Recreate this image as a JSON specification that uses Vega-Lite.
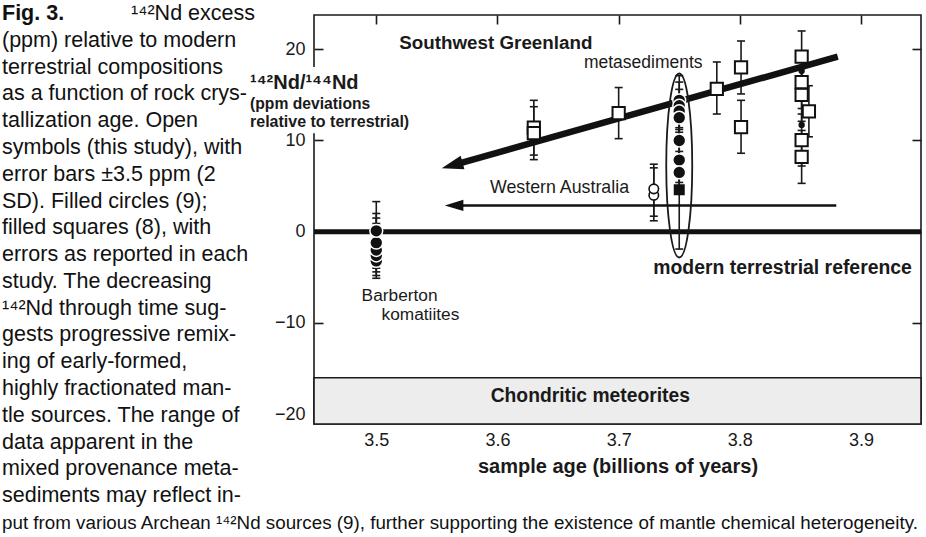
{
  "$schema": "https://vega.github.io/schema/vega-lite/v6.json",
  "width": 607,
  "height": 409,
  "autosize": {"type": "none"},
  "padding": {"left": 314, "top": 15, "right": 5, "bottom": 113},
  "background": "white",
  "config": {
    "font": "Liberation Sans",
    "view": {"stroke": "#1a1a1a", "strokeWidth": 1.6},
    "axis": {"domain": false, "grid": false, "ticks": true, "tickColor": "#1a1a1a", "tickWidth": 1.6, "tickSize": -9, "labelFont": "Liberation Sans", "labelFontSize": 18, "labelColor": "#1a1a1a", "titleFont": "Liberation Sans", "titleFontSize": 20, "titleFontWeight": "bold", "titleColor": "#1a1a1a"},
    "text": {"color": "#1a1a1a"}
  },
  "datasets": {
    "samples": [
      {"kind": "open square", "x": 3.630, "y": 11.4, "lo": 7.9, "hi": 14.4},
      {"kind": "open square", "x": 3.630, "y": 10.8, "lo": 8.4, "hi": 13.7},
      {"kind": "open square", "x": 3.700, "y": 13.0, "lo": 10.2, "hi": 15.8},
      {"kind": "open square", "x": 3.781, "y": 15.65, "lo": 12.9, "hi": 18.6},
      {"kind": "open square", "x": 3.801, "y": 18.0, "lo": 15.1, "hi": 20.9},
      {"kind": "open square", "x": 3.801, "y": 11.45, "lo": 8.6, "hi": 14.4},
      {"kind": "open square", "x": 3.851, "y": 19.2, "lo": 16.4, "hi": 22.0},
      {"kind": "open square", "x": 3.851, "y": 15.0, "lo": 12.1, "hi": 17.9},
      {"kind": "open square", "x": 3.851, "y": 16.4, "lo": 13.5, "hi": 19.3},
      {"kind": "open square", "x": 3.857, "y": 13.2, "lo": 10.4, "hi": 16.0},
      {"kind": "open square", "x": 3.851, "y": 10.05, "lo": 7.2, "hi": 12.9},
      {"kind": "open square", "x": 3.851, "y": 8.2, "lo": 5.3, "hi": 11.1},
      {"kind": "open circle", "x": 3.729, "y": 4.0, "lo": 1.7, "hi": 7.0},
      {"kind": "open circle", "x": 3.729, "y": 4.7, "lo": 1.2, "hi": 7.4},
      {"kind": "filled circle", "x": 3.500, "y": -3.2, "lo": -5.1, "hi": -0.6},
      {"kind": "filled circle", "x": 3.500, "y": -2.6, "lo": -4.8, "hi": 0.9},
      {"kind": "filled circle", "x": 3.500, "y": -2.0, "lo": -4.4, "hi": 1.5},
      {"kind": "filled circle", "x": 3.500, "y": -1.2, "lo": -4.0, "hi": 2.0},
      {"kind": "filled circle", "x": 3.500, "y": 0.1, "lo": -3.6, "hi": 3.3},
      {"kind": "filled circle", "x": 3.750, "y": 14.4, "lo": 12.0, "hi": 17.1},
      {"kind": "filled circle", "x": 3.750, "y": 13.8, "lo": 11.4, "hi": 16.4},
      {"kind": "filled circle", "x": 3.750, "y": 13.2, "lo": 10.9, "hi": 15.6},
      {"kind": "filled circle", "x": 3.750, "y": 12.5, "lo": 10.3, "hi": 14.8},
      {"kind": "filled circle", "x": 3.750, "y": 10.0, "lo": 7.8, "hi": 12.2},
      {"kind": "filled circle", "x": 3.750, "y": 7.85, "lo": 5.4, "hi": 10.3},
      {"kind": "filled circle", "x": 3.750, "y": 6.5, "lo": 4.2, "hi": 8.8},
      {"kind": "filled square", "x": 3.750, "y": 4.6, "lo": -1.9, "hi": 11.2},
      {"kind": "small filled", "x": 3.851, "y": 17.6},
      {"kind": "small filled", "x": 3.851, "y": 11.7}
    ],
    "arrows": [
      {"arrow": "Southwest Greenland", "x": 3.5635, "y": 7.306},
      {"arrow": "Southwest Greenland", "x": 3.8808, "y": 19.18},
      {"arrow": "Western Australia", "x": 3.5647, "y": 2.88},
      {"arrow": "Western Australia", "x": 3.8796, "y": 2.88}
    ],
    "caption": [
      {"line": 1, "text": "¹⁴²Nd excess"},
      {"line": 2, "text": "(ppm) relative to modern"},
      {"line": 3, "text": "terrestrial compositions"},
      {"line": 4, "text": "as a function of rock crys-"},
      {"line": 5, "text": "tallization age. Open"},
      {"line": 6, "text": "symbols (this study), with"},
      {"line": 7, "text": "error bars ±3.5 ppm (2"},
      {"line": 8, "text": "SD). Filled circles (9);"},
      {"line": 9, "text": "filled squares (8), with"},
      {"line": 10, "text": "errors as reported in each"},
      {"line": 11, "text": "study. The decreasing"},
      {"line": 12, "text": "¹⁴²Nd through time sug-"},
      {"line": 13, "text": "gests progressive remix-"},
      {"line": 14, "text": "ing of early-formed,"},
      {"line": 15, "text": "highly fractionated man-"},
      {"line": 16, "text": "tle sources. The range of"},
      {"line": 17, "text": "data apparent in the"},
      {"line": 18, "text": "mixed provenance meta-"},
      {"line": 19, "text": "sediments may reflect in-"},
      {"line": 20, "text": "put from various Archean ¹⁴²Nd sources (9), further supporting the existence of mantle chemical heterogeneity."}
    ]
  },
  "layer": [
    {
      "layer": [
        {
          "layer": [
            {
              "data": {"values": [{}]},
              "mark": {"type": "rect", "fill": "#ededed", "stroke": "#1a1a1a", "strokeWidth": 1.6},
              "encoding": {
                "x": {"datum": 3.4486, "type": "quantitative", "scale": {"domain": [3.4486, 3.9495], "nice": false, "zero": false}, "axis": {"values": [3.5, 3.6, 3.7, 3.8, 3.9], "format": ".1f", "labelPadding": 16, "title": "sample age (billions of years)", "titlePadding": 7}},
                "x2": {"datum": 3.9495},
                "y": {"datum": -16, "type": "quantitative", "scale": {"domain": [-21.07, 23.75], "nice": false, "zero": false}, "axis": {"values": [-20, -10, 0, 10, 20], "labelPadding": 18, "title": null}},
                "y2": {"datum": -21.07}
              }
            },
            {
              "data": {"values": [{}]},
              "mark": {"type": "rect", "fill": "white"},
              "encoding": {"x": {"datum": 3.40}, "x2": {"datum": 3.4505}, "y": {"datum": 10.8}, "y2": {"datum": 18.05}}
            },
            {
              "data": {"values": [{}]},
              "mark": {"type": "rule", "color": "#111", "strokeWidth": 5},
              "encoding": {"y": {"datum": 0}}
            },
            {
              "data": {"name": "samples"},
              "transform": [{"filter": {"field": "lo", "valid": true}}],
              "mark": {"type": "rule", "color": "#1a1a1a", "strokeWidth": 1.6},
              "encoding": {"x": {"field": "x", "type": "quantitative"}, "y": {"field": "lo", "type": "quantitative"}, "y2": {"field": "hi"}}
            },
            {
              "data": {"name": "samples"},
              "transform": [{"filter": {"field": "lo", "valid": true}}, {"fold": ["lo", "hi"], "as": ["end", "cap"]}],
              "mark": {"type": "tick", "orient": "horizontal", "size": 8, "thickness": 1.6, "color": "#1a1a1a", "opacity": 1},
              "encoding": {"x": {"field": "x", "type": "quantitative"}, "y": {"field": "cap", "type": "quantitative"}}
            },
            {
              "data": {"name": "arrows"},
              "transform": [{"filter": "datum.arrow == 'Southwest Greenland'"}],
              "mark": {"type": "line", "color": "#111", "strokeWidth": 6.5, "strokeCap": "butt"},
              "encoding": {"x": {"field": "x", "type": "quantitative"}, "y": {"field": "y", "type": "quantitative"}}
            },
            {
              "data": {"values": [{}]},
              "mark": {"type": "point", "shape": "M0,0L2,-0.65L2,0.65Z", "size": 467, "angle": 344.3, "filled": true, "color": "#111", "opacity": 1},
              "encoding": {"x": {"datum": 3.554}, "y": {"datum": 6.95}}
            },
            {
              "data": {"name": "arrows"},
              "transform": [{"filter": "datum.arrow == 'Western Australia'"}],
              "mark": {"type": "line", "color": "#111", "strokeWidth": 2.4},
              "encoding": {"x": {"field": "x", "type": "quantitative"}, "y": {"field": "y", "type": "quantitative"}}
            },
            {
              "data": {"values": [{}]},
              "mark": {"type": "point", "shape": "M0,0L2,-0.6L2,0.6Z", "size": 346, "filled": true, "color": "#111", "opacity": 1},
              "encoding": {"x": {"datum": 3.5565}, "y": {"datum": 2.88}}
            },
            {
              "data": {"values": [{}]},
              "mark": {"type": "point", "shape": "M0,-1C0.078,-1,0.1413,-0.5523,0.1413,0C0.1413,0.5523,0.078,1,0,1C-0.078,1,-0.1413,0.5523,-0.1413,0C-0.1413,-0.5523,-0.078,-1,0,-1Z", "size": 33856, "filled": false, "color": "#1a1a1a", "strokeWidth": 1.8, "opacity": 1},
              "encoding": {"x": {"datum": 3.750}, "y": {"datum": 7.26}}
            },
            {
              "data": {"name": "samples"},
              "transform": [{"filter": "datum.kind == 'small filled'"}],
              "mark": {"type": "point", "shape": "circle", "size": 40, "filled": true, "color": "#111", "opacity": 1},
              "encoding": {"x": {"field": "x", "type": "quantitative"}, "y": {"field": "y", "type": "quantitative"}}
            },
            {
              "data": {"name": "samples"},
              "transform": [{"filter": "datum.kind == 'open square'"}],
              "mark": {"type": "point", "shape": "square", "size": 150, "fill": "white", "stroke": "#111", "strokeWidth": 2, "opacity": 1},
              "encoding": {"x": {"field": "x", "type": "quantitative"}, "y": {"field": "y", "type": "quantitative"}}
            },
            {
              "data": {"name": "samples"},
              "transform": [{"filter": "datum.kind == 'open circle'"}],
              "mark": {"type": "point", "shape": "circle", "size": 90, "fill": "white", "stroke": "#111", "strokeWidth": 1.6, "opacity": 1},
              "encoding": {"x": {"field": "x", "type": "quantitative"}, "y": {"field": "y", "type": "quantitative"}}
            },
            {
              "data": {"name": "samples"},
              "transform": [{"filter": "datum.kind == 'filled circle'"}],
              "mark": {"type": "point", "shape": "circle", "size": 165, "fill": "#111", "stroke": "white", "strokeWidth": 1.5, "opacity": 1},
              "encoding": {"x": {"field": "x", "type": "quantitative"}, "y": {"field": "y", "type": "quantitative"}}
            },
            {
              "data": {"name": "samples"},
              "transform": [{"filter": "datum.kind == 'filled square'"}],
              "mark": {"type": "point", "shape": "square", "size": 121, "filled": true, "color": "#111", "opacity": 1},
              "encoding": {"x": {"field": "x", "type": "quantitative"}, "y": {"field": "y", "type": "quantitative"}}
            },
            {
              "data": {"values": [{}]},
              "mark": {"type": "text", "text": "Southwest Greenland", "align": "left", "baseline": "middle", "fontWeight": "bold", "fontSize": 18.8},
              "encoding": {"x": {"datum": 3.519}, "y": {"datum": 20.65}}
            },
            {
              "data": {"values": [{}]},
              "mark": {"type": "text", "text": "metasediments", "align": "center", "baseline": "middle", "fontSize": 17.5},
              "encoding": {"x": {"datum": 3.7203}, "y": {"datum": 18.45}}
            },
            {
              "data": {"values": [{}]},
              "mark": {"type": "text", "text": "Western Australia", "align": "center", "baseline": "middle", "fontSize": 17.8},
              "encoding": {"x": {"datum": 3.6512}, "y": {"datum": 4.76}}
            },
            {
              "data": {"values": [{}]},
              "mark": {"type": "text", "text": "modern terrestrial reference", "align": "right", "baseline": "middle", "fontWeight": "bold", "fontSize": 19.4},
              "encoding": {"x": {"datum": 3.942}, "y": {"datum": -4.01}}
            },
            {
              "data": {"values": [{}]},
              "mark": {"type": "text", "text": "Barberton", "align": "left", "baseline": "middle", "fontSize": 17.3},
              "encoding": {"x": {"datum": 3.4879}, "y": {"datum": -7.08}}
            },
            {
              "data": {"values": [{}]},
              "mark": {"type": "text", "text": "komatiites", "align": "left", "baseline": "middle", "fontSize": 17.3},
              "encoding": {"x": {"datum": 3.5043}, "y": {"datum": -9.18}}
            },
            {
              "data": {"values": [{}]},
              "mark": {"type": "text", "text": "Chondritic meteorites", "align": "center", "baseline": "middle", "fontWeight": "bold", "fontSize": 19.3},
              "encoding": {"x": {"datum": 3.6766}, "y": {"datum": -18.0}}
            },
            {
              "data": {"values": [{}]},
              "mark": {"type": "text", "text": "¹⁴²Nd/¹⁴⁴Nd", "align": "left", "baseline": "middle", "fontWeight": "bold", "fontSize": 20},
              "encoding": {"x": {"datum": 3.3958}, "y": {"datum": 16.26}}
            },
            {
              "data": {"values": [{}]},
              "mark": {"type": "text", "text": "(ppm deviations", "align": "left", "baseline": "middle", "fontWeight": "bold", "fontSize": 15.7},
              "encoding": {"x": {"datum": 3.3958}, "y": {"datum": 14.0}}
            },
            {
              "data": {"values": [{}]},
              "mark": {"type": "text", "text": "relative to terrestrial)", "align": "left", "baseline": "middle", "fontWeight": "bold", "fontSize": 16},
              "encoding": {"x": {"datum": 3.3958}, "y": {"datum": 12.05}}
            }
          ]
        },
        {
          "data": {"values": [{}]},
          "mark": {"type": "point", "opacity": 0},
          "encoding": {
            "x": {"datum": 3.7, "type": "quantitative", "axis": {"orient": "top", "labels": false, "title": null, "values": [3.5, 3.6, 3.7, 3.8, 3.9]}},
            "y": {"datum": 0, "type": "quantitative", "axis": {"orient": "right", "labels": false, "title": null, "values": [-20, -10, 0, 10, 20]}}
          }
        }
      ],
      "resolve": {"axis": {"x": "independent", "y": "independent"}}
    },
    {
      "data": {"name": "caption"},
      "layer": [
        {
          "transform": [{"filter": "datum.line >= 2 && datum.line <= 19"}],
          "mark": {"type": "text", "align": "left", "baseline": "middle", "fontSize": 21.5, "color": "#111"},
          "encoding": {
            "x": {"datum": 0, "type": "quantitative", "scale": {"domain": [0, 1], "range": [-312, 614], "zero": false, "nice": false}, "axis": null},
            "y": {"field": "line", "type": "quantitative", "scale": {"domain": [1, 20], "range": [-1, 508], "zero": false, "nice": false}, "axis": null},
            "text": {"field": "text"}
          }
        },
        {
          "transform": [{"filter": "datum.line == 1"}],
          "mark": {"type": "text", "align": "right", "baseline": "middle", "fontSize": 21.5, "color": "#111"},
          "encoding": {
            "x": {"datum": 0.2732, "type": "quantitative"},
            "y": {"field": "line", "type": "quantitative"},
            "text": {"field": "text"}
          }
        },
        {
          "transform": [{"filter": "datum.line == 1"}],
          "mark": {"type": "text", "align": "left", "baseline": "middle", "fontSize": 21.5, "fontWeight": "bold", "color": "#111", "text": "Fig. 3."},
          "encoding": {
            "x": {"datum": 0, "type": "quantitative"},
            "y": {"field": "line", "type": "quantitative"}
          }
        },
        {
          "transform": [{"filter": "datum.line == 20"}],
          "mark": {"type": "text", "align": "left", "baseline": "middle", "fontSize": 18.8, "color": "#111"},
          "encoding": {
            "x": {"datum": 0, "type": "quantitative"},
            "y": {"field": "line", "type": "quantitative"},
            "text": {"field": "text"}
          }
        }
      ]
    }
  ],
  "resolve": {"scale": {"x": "independent", "y": "independent"}, "axis": {"x": "independent", "y": "independent"}}
}
